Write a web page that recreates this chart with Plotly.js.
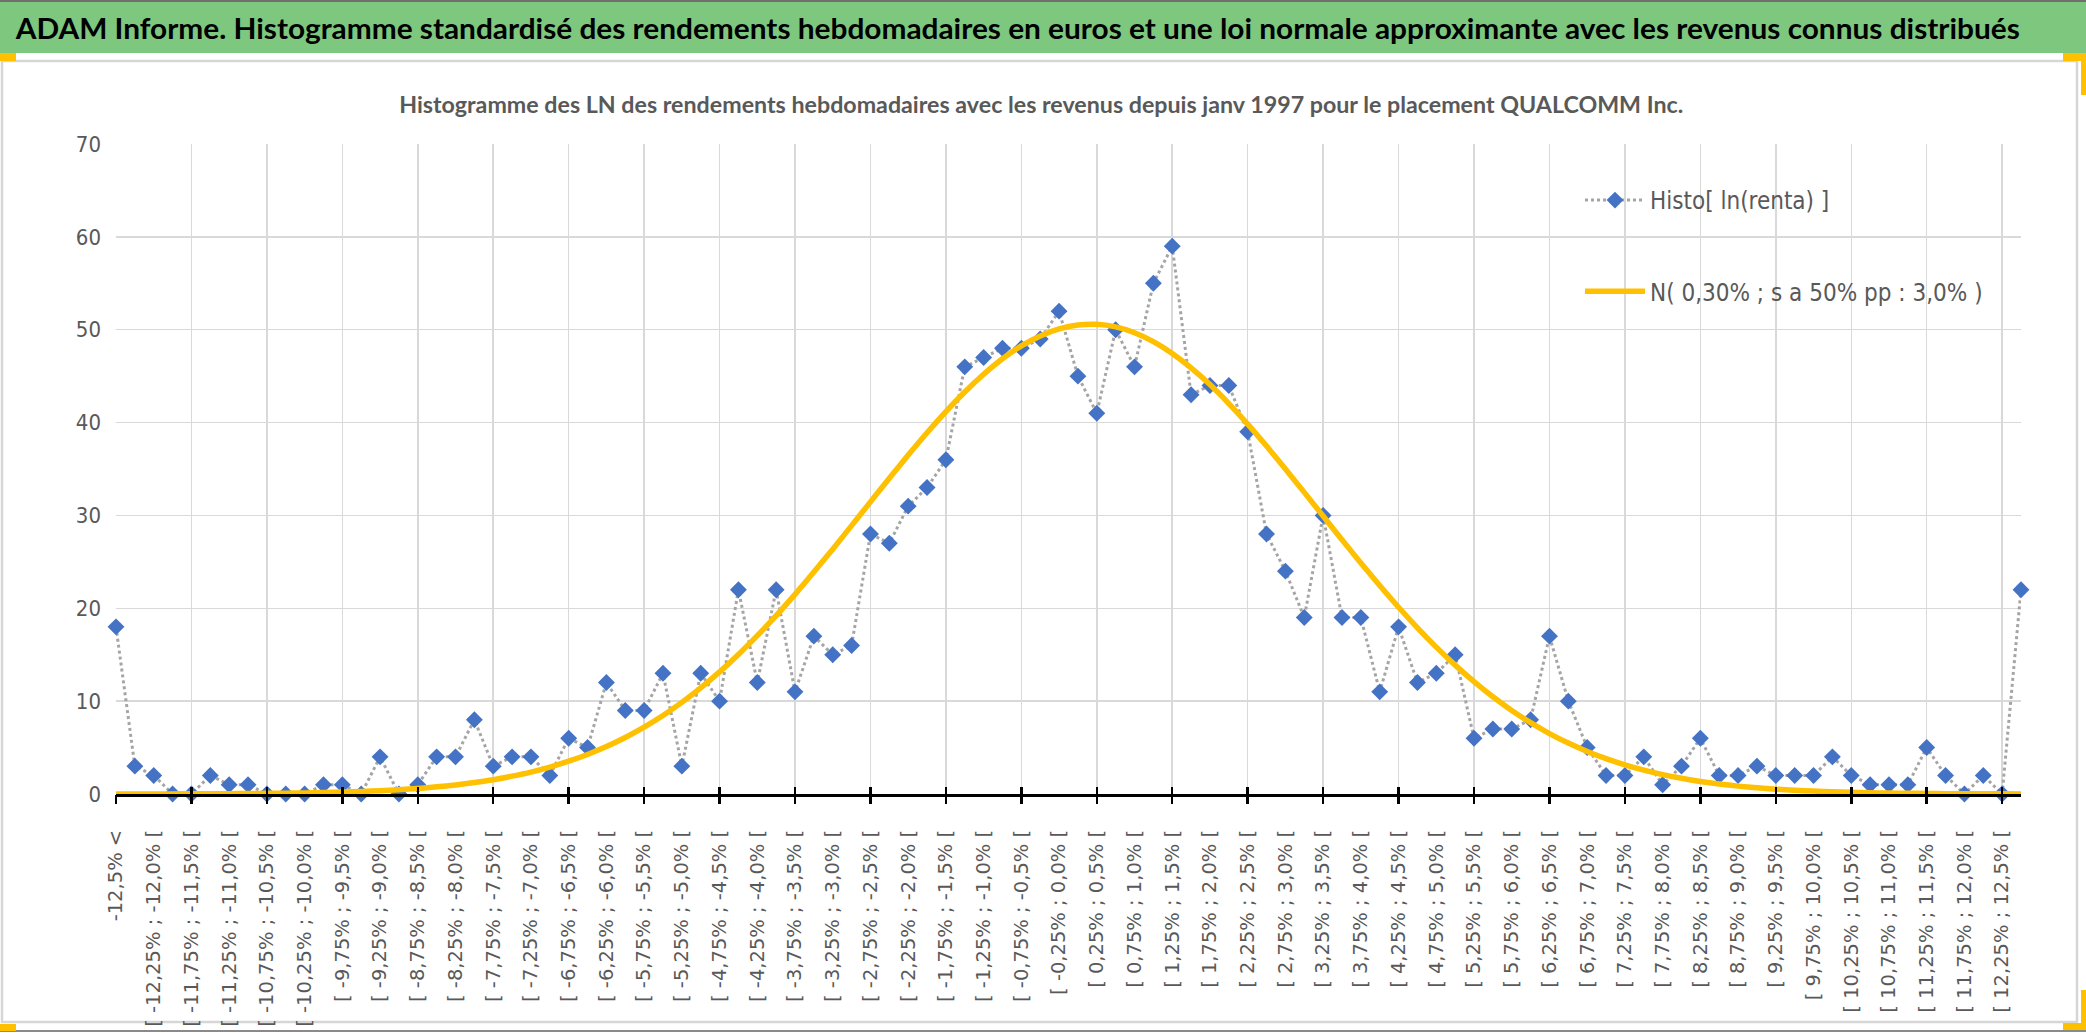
<!DOCTYPE html>
<html><head><meta charset="utf-8">
<script src="https://cdn.plot.ly/plotly-3.0.1.min.js"></script>
<style>html,body{margin:0;padding:0;background:#fff;overflow:hidden}#chart{width:2086px;height:1033px;}</style>
</head><body><div id="chart"></div>
<script>
// ---------------- DATA ----------------
const categories = [
"-12,5% <",
"[ -12,5% ; -12,25% [","[ -12,25% ; -12,0% [","[ -12,0% ; -11,75% [","[ -11,75% ; -11,5% [",
"[ -11,5% ; -11,25% [","[ -11,25% ; -11,0% [","[ -11,0% ; -10,75% [","[ -10,75% ; -10,5% [",
"[ -10,5% ; -10,25% [","[ -10,25% ; -10,0% [","[ -10,0% ; -9,75% [","[ -9,75% ; -9,5% [",
"[ -9,5% ; -9,25% [","[ -9,25% ; -9,0% [","[ -9,0% ; -8,75% [","[ -8,75% ; -8,5% [",
"[ -8,5% ; -8,25% [","[ -8,25% ; -8,0% [","[ -8,0% ; -7,75% [","[ -7,75% ; -7,5% [",
"[ -7,5% ; -7,25% [","[ -7,25% ; -7,0% [","[ -7,0% ; -6,75% [","[ -6,75% ; -6,5% [",
"[ -6,5% ; -6,25% [","[ -6,25% ; -6,0% [","[ -6,0% ; -5,75% [","[ -5,75% ; -5,5% [",
"[ -5,5% ; -5,25% [","[ -5,25% ; -5,0% [","[ -5,0% ; -4,75% [","[ -4,75% ; -4,5% [",
"[ -4,5% ; -4,25% [","[ -4,25% ; -4,0% [","[ -4,0% ; -3,75% [","[ -3,75% ; -3,5% [",
"[ -3,5% ; -3,25% [","[ -3,25% ; -3,0% [","[ -3,0% ; -2,75% [","[ -2,75% ; -2,5% [",
"[ -2,5% ; -2,25% [","[ -2,25% ; -2,0% [","[ -2,0% ; -1,75% [","[ -1,75% ; -1,5% [",
"[ -1,5% ; -1,25% [","[ -1,25% ; -1,0% [","[ -1,0% ; -0,75% [","[ -0,75% ; -0,5% [",
"[ -0,5% ; -0,25% [","[ -0,25% ; 0,0% [","[ 0,0% ; 0,25% [","[ 0,25% ; 0,5% [",
"[ 0,5% ; 0,75% [","[ 0,75% ; 1,0% [","[ 1,0% ; 1,25% [","[ 1,25% ; 1,5% [",
"[ 1,5% ; 1,75% [","[ 1,75% ; 2,0% [","[ 2,0% ; 2,25% [","[ 2,25% ; 2,5% [",
"[ 2,5% ; 2,75% [","[ 2,75% ; 3,0% [","[ 3,0% ; 3,25% [","[ 3,25% ; 3,5% [",
"[ 3,5% ; 3,75% [","[ 3,75% ; 4,0% [","[ 4,0% ; 4,25% [","[ 4,25% ; 4,5% [",
"[ 4,5% ; 4,75% [","[ 4,75% ; 5,0% [","[ 5,0% ; 5,25% [","[ 5,25% ; 5,5% [",
"[ 5,5% ; 5,75% [","[ 5,75% ; 6,0% [","[ 6,0% ; 6,25% [","[ 6,25% ; 6,5% [",
"[ 6,5% ; 6,75% [","[ 6,75% ; 7,0% [","[ 7,0% ; 7,25% [","[ 7,25% ; 7,5% [",
"[ 7,5% ; 7,75% [","[ 7,75% ; 8,0% [","[ 8,0% ; 8,25% [","[ 8,25% ; 8,5% [",
"[ 8,5% ; 8,75% [","[ 8,75% ; 9,0% [","[ 9,0% ; 9,25% [","[ 9,25% ; 9,5% [",
"[ 9,5% ; 9,75% [","[ 9,75% ; 10,0% [","[ 10,0% ; 10,25% [","[ 10,25% ; 10,5% [",
"[ 10,5% ; 10,75% [","[ 10,75% ; 11,0% [","[ 11,0% ; 11,25% [","[ 11,25% ; 11,5% [",
"[ 11,5% ; 11,75% [","[ 11,75% ; 12,0% [","[ 12,0% ; 12,25% [","[ 12,25% ; 12,5% [",
"12,5% <="
];

const histoCounts = [
18,3,2,0,0,2,1,1,0,0,
0,1,1,0,4,0,1,4,4,8,
3,4,4,2,6,5,12,9,9,13,
3,13,10,22,12,22,11,17,15,16,
28,27,31,33,36,46,47,48,48,49,
52,45,41,50,46,55,59,43,44,44,
39,28,24,19,30,19,19,11,18,12,
13,15,6,7,7,8,17,10,5,2,
2,4,1,3,6,2,2,3,2,2,
2,4,2,1,1,1,5,2,0,2,
0,22
];

const normalCurve = [
0.00,0.01,0.01,0.01,0.02,0.03,0.04,0.05,0.07,0.09,
0.12,0.16,0.21,0.28,0.36,0.47,0.60,0.77,0.98,1.24,
1.54,1.92,2.36,2.90,3.53,4.26,5.11,6.09,7.20,8.46,
9.87,11.43,13.15,15.03,17.05,19.21,21.50,23.90,26.37,28.90,
31.46,34.00,36.50,38.91,41.19,43.30,45.20,46.87,48.25,49.33,
50.09,50.51,50.58,50.30,49.68,48.72,47.45,45.90,44.09,42.05,
39.84,37.47,35.01,32.48,29.93,27.38,24.88,22.45,20.11,17.90,
15.82,13.88,12.10,10.47,9.00,7.68,6.51,5.48,4.58,3.81,
3.14,2.57,2.09,1.69,1.35,1.08,0.85,0.67,0.52,0.40,
0.31,0.24,0.18,0.14,0.10,0.08,0.06,0.04,0.03,0.02,
0.02,0.01
];

const yTicks = [0,10,20,30,40,50,60,70];
const seriesNames = ["Histo[ ln(renta) ]", "N( 0,30% ; s a 50% pp : 3,0% )"];
const mainTitle = "ADAM Informe. Histogramme standardisé des rendements hebdomadaires en euros et une loi normale approximante avec les revenus connus distribués";
const subTitle = "Histogramme des LN des rendements hebdomadaires avec les revenus depuis janv 1997 pour le placement QUALCOMM Inc.";

// ---------------- LAYOUT ----------------
const W = 2086, H = 1033;
const M = {l:116, r:65, t:144, b:239};
const PW = W - M.l - M.r, PH = H - M.t - M.b;
const px = x => (x - M.l) / PW;          // pixel -> paper x
const py = y => (H - M.b - y) / PH;      // pixel -> paper y

const COND = "'DejaVu Sans Condensed', 'Liberation Sans Narrow', sans-serif";
const TITLEF = "Lato, 'DejaVu Sans Condensed', sans-serif";
const GREY = "#595959";

const idx = categories.map((_, i) => i);
const labelIdx = idx.filter(i => i % 2 === 0 && i <= 100);
const labelText = labelIdx.map(i => categories[i]);

const traces = [
  {
    type: "scatter", mode: "lines+markers", name: seriesNames[0],
    x: idx, y: histoCounts, xaxis: "x", yaxis: "y",
    line: {color: "#A5A5A5", width: 3, dash: "3px,3px"},
    marker: {symbol: "diamond", color: "#4472C4", size: 13},
    cliponaxis: false, legendgroup: "a"
  },
  {
    type: "scatter", mode: "lines", name: seriesNames[1],
    x: idx, y: normalCurve, xaxis: "x2", yaxis: "y",
    line: {color: "#FFC000", width: 5.5, shape: "spline", smoothing: 0.6},
    cliponaxis: false, legendgroup: "b"
  },
  {
    type: "scatter", mode: "lines", x: [], y: [], xaxis: "x3", yaxis: "y",
    showlegend: false, hoverinfo: "skip"
  }
];

const axBase = {range: [0, 101], fixedrange: true, zeroline: false};

const layout = {
  width: W, height: H,
  margin: M,
  paper_bgcolor: "#ffffff", plot_bgcolor: "rgba(0,0,0,0)",
  showlegend: true,
  xaxis: Object.assign({}, axBase, {
    tickmode: "array", tickvals: labelIdx, ticktext: labelText,
    tickangle: -90, ticks: "", showgrid: false,
    showline: true, linecolor: "#000000", linewidth: 3,
    ticklabelstandoff: 25,
    tickfont: {family: "'DejaVu Sans', Verdana, sans-serif", size: 19.5, color: GREY}
  }),
  xaxis2: Object.assign({}, axBase, {
    overlaying: "x", anchor: "y", side: "bottom",
    tickmode: "linear", tick0: 0, dtick: 4,
    showgrid: true, gridcolor: "#D9D9D9", gridwidth: 1.5,
    ticks: "outside", ticklen: 9, tickwidth: 2.5, tickcolor: "#000000",
    showticklabels: false, showline: false
  }),
  xaxis3: Object.assign({}, axBase, {
    overlaying: "x", anchor: "y", side: "bottom",
    tickmode: "linear", tick0: 0, dtick: 4,
    showgrid: false,
    ticks: "inside", ticklen: 7, tickwidth: 2.5, tickcolor: "#000000",
    showticklabels: false, showline: false
  }),
  yaxis: {
    range: [0, 70], fixedrange: true, tickmode: "array", tickvals: yTicks,
    showgrid: true, gridcolor: "#D9D9D9", gridwidth: 1.5,
    zeroline: false, showline: false, ticks: "",
    ticklabelstandoff: 14,
    tickfont: {family: COND, size: 22, color: GREY}
  },
  legend: {
    x: px(1580), y: py(178), xanchor: "left", yanchor: "top",
    bgcolor: "rgba(0,0,0,0)", borderwidth: 0,
    traceorder: "grouped", tracegroupgap: 57, itemwidth: 60,
    font: {family: COND, size: 24, color: GREY}
  },
  shapes: [
    // legend white box hiding gridlines
    {type: "rect", xref: "paper", yref: "paper", layer: "between",
     x0: px(1539), x1: px(2016), y0: py(338), y1: py(153),
     fillcolor: "#ffffff", line: {width: 0}},
    // green banner
    {type: "rect", xref: "paper", yref: "paper", layer: "above",
     x0: px(0), x1: px(2086), y0: py(53), y1: py(0),
     fillcolor: "#7DC77F", line: {width: 0}},
    {type: "line", xref: "paper", yref: "paper", layer: "above",
     x0: px(0), x1: px(2086), y0: py(1), y1: py(1), line: {color: "#6f6f6f", width: 2}},
    // chart frame
    {type: "rect", xref: "paper", yref: "paper", layer: "below",
     x0: px(2), x1: px(2077), y0: py(1022), y1: py(61),
     fillcolor: "rgba(0,0,0,0)", line: {color: "#D6D6D6", width: 2.5}},
    {type: "line", xref: "paper", yref: "paper", layer: "above",
     x0: px(0), x1: px(2086), y0: py(1031), y1: py(1031), line: {color: "#8a8a8a", width: 2}},
    // yellow selection handles
    {type: "rect", xref: "paper", yref: "paper", layer: "above",
     x0: px(0), x1: px(16), y0: py(61), y1: py(53), fillcolor: "#FFC000", line: {width: 0}},
    {type: "rect", xref: "paper", yref: "paper", layer: "above",
     x0: px(2063), x1: px(2086), y0: py(61), y1: py(53), fillcolor: "#FFC000", line: {width: 0}},
    {type: "rect", xref: "paper", yref: "paper", layer: "above",
     x0: px(2081), x1: px(2086), y0: py(95), y1: py(53), fillcolor: "#FFC000", line: {width: 0}},
    {type: "rect", xref: "paper", yref: "paper", layer: "above",
     x0: px(0), x1: px(16), y0: py(1031), y1: py(1024), fillcolor: "#FFC000", line: {width: 0}},
    {type: "rect", xref: "paper", yref: "paper", layer: "above",
     x0: px(2063), x1: px(2086), y0: py(1030), y1: py(1023), fillcolor: "#FFC000", line: {width: 0}},
    {type: "rect", xref: "paper", yref: "paper", layer: "above",
     x0: px(2081), x1: px(2086), y0: py(1030), y1: py(990), fillcolor: "#FFC000", line: {width: 0}}
  ],
  annotations: [
    {text: mainTitle, xref: "paper", yref: "paper", x: px(1017), y: py(27),
     xanchor: "center", yanchor: "middle", showarrow: false,
     font: {family: TITLEF, size: 29, color: "#000000", weight: "bold"}},
    {text: subTitle, xref: "paper", yref: "paper", x: px(1041), y: py(104),
     xanchor: "center", yanchor: "middle", showarrow: false,
     font: {family: TITLEF, size: 22, color: GREY, weight: "bold"}}
  ]
};

// target rendered widths of the two titles (px)
const titleWidths = [2004, 1284];

Plotly.newPlot("chart", traces, layout, {staticPlot: true, displayModeBar: false}).then(gd => {
  const groups = gd.querySelectorAll(".annotation");
  groups.forEach((g, i) => {
    const target = titleWidths[i];
    if (!target) return;
    const t = g.querySelector(".annotation-text");
    if (t) {
      t.setAttribute("textLength", target);
      t.setAttribute("lengthAdjust", "spacingAndGlyphs");
    }
    const bg = g.querySelector("rect.bg");
    if (bg) {
      const w0 = parseFloat(bg.getAttribute("width")) || target;
      const x0 = parseFloat(bg.getAttribute("x")) || 0;
      bg.setAttribute("x", x0 + (w0 - target) / 2);
      bg.setAttribute("width", target);
    }
  });
});
</script>
</body></html>
